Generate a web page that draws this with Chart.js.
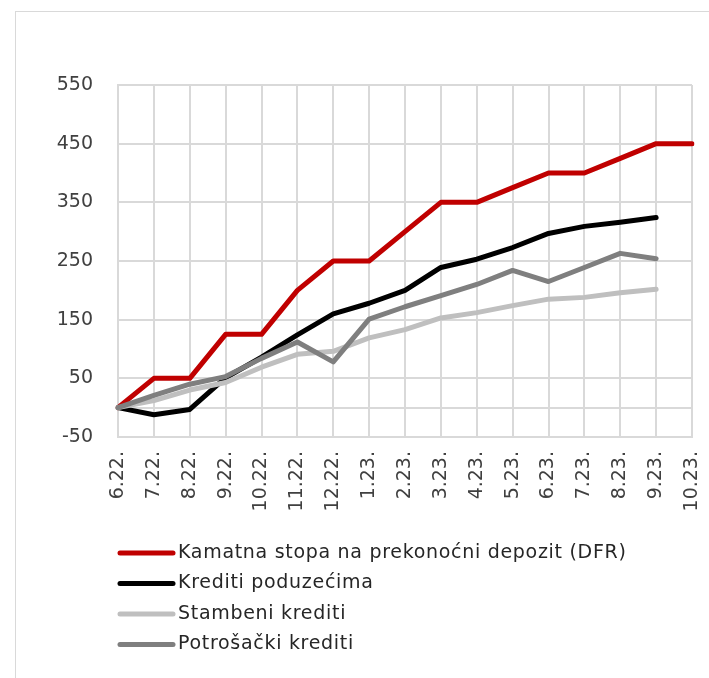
<!DOCTYPE html>
<html>
<head>
<meta charset="utf-8">
<script src="https://cdn.jsdelivr.net/npm/chart.js@4/dist/chart.umd.min.js"></script>
<style>
  html, body { margin: 0; padding: 0; background: #fff; overflow: hidden; }
  #frame { position: absolute; left: 15px; top: 11px; width: 760px; height: 720px; border: 1.5px solid #d9d9d9; }
  #wrap { position: absolute; left: 0; top: 0; width: 709px; height: 678px; }
</style>
</head>
<body>
<div id="frame"></div>
<div id="wrap"><canvas id="chart" width="709" height="678"></canvas></div>
<script>
// months (m.yy.)
const months = ['6.22.', '7.22.', '8.22.', '9.22.', '10.22.', '11.22.', '12.22.', '1.23.', '2.23.',
  '3.23.', '4.23.', '5.23.', '6.23.', '7.23.', '8.23.', '9.23.', '10.23.'];

// cumulative change, basis points
const dfr = [0, 50, 50, 125, 125, 200, 250, 250, 300, 350, 350, 375, 400, 400, 425, 450, 450];
const kreditiPoduzecima = [0, -12, -3, 51, 86, 124, 160, 178, 200, 239, 253, 273, 297, 309, 316, 324, null];
const stambeniKrediti = [0, 12, 30, 43, 69, 91, 96, 119, 133, 153, 162, 174, 185, 188, 196, 202, null];
const potrosackiKrediti = [0, 21, 40, 53, 84, 112, 78, 151, 172, 191, 210, 234, 215, 239, 263, 254, null];

// y axis ticks (0 gets a line but no label)
const yTicks = [-50, 0, 50, 150, 250, 350, 450, 550];

const FONT = '"DejaVu Sans", sans-serif';

// legend one item per row, like the original
const stackedLegend = {
  id: 'stackedLegend',
  afterDraw(chart) {
    const ctx = chart.ctx;
    const x0 = chart.chartArea.left;
    let y = 553;
    ctx.save();
    ctx.font = '19px ' + FONT;
    ctx.letterSpacing = '0.7px';
    ctx.textBaseline = 'middle';
    chart.data.datasets.forEach(ds => {
      ctx.strokeStyle = ds.borderColor;
      ctx.lineWidth = 5;
      ctx.lineCap = 'round';
      ctx.beginPath();
      ctx.moveTo(x0 + 2, y);
      ctx.lineTo(x0 + 55, y);
      ctx.stroke();
      ctx.fillStyle = '#262626';
      ctx.fillText(ds.label, x0 + 60, y);
      y += 30.5;
    });
    ctx.restore();
  }
};

const ctx = document.getElementById('chart');
new Chart(ctx, {
  type: 'line',
  data: {
    labels: months,
    datasets: [
      { label: 'Kamatna stopa na prekonoćni depozit (DFR)', data: dfr, borderColor: '#c00000', order: 4 },
      { label: 'Krediti poduzećima', data: kreditiPoduzecima, borderColor: '#000000', order: 3 },
      { label: 'Stambeni krediti', data: stambeniKrediti, borderColor: '#bfbfbf', order: 2 },
      { label: 'Potrošački krediti', data: potrosackiKrediti, borderColor: '#7f7f7f', order: 1 }
    ]
  },
  options: {
    responsive: false,
    animation: false,
    layout: { padding: { top: 85, right: 0, left: 0, bottom: 0 } },
    elements: {
      line: { borderWidth: 5, tension: 0, borderJoinStyle: 'round', borderCapStyle: 'round' },
      point: { radius: 0 }
    },
    plugins: {
      legend: { display: false },
      tooltip: { enabled: false }
    },
    scales: {
      x: {
        offset: false,
        grid: { color: '#d9d9d9', lineWidth: 2, drawTicks: false },
        border: { color: '#d9d9d9', width: 2 },
        ticks: {
          autoSkip: false, minRotation: 90, maxRotation: 90, padding: 14,
          color: '#404040', font: { family: FONT, size: 19 }
        },
        afterFit(scale) {
          scale.height = 678 - 437;
          scale.paddingLeft = 0;
          scale.paddingRight = 17;
        }
      },
      y: {
        min: -50, max: 550,
        afterBuildTicks(scale) { scale.ticks = yTicks.map(v => ({ value: v })); },
        grid: { color: '#d9d9d9', lineWidth: 2, drawTicks: false },
        border: { color: '#d9d9d9', width: 2 },
        ticks: {
          padding: 25, color: '#404040', font: { family: FONT, size: 19 },
          callback: v => (v === 0 ? '' : v)
        },
        afterFit(scale) { scale.width = 118; }
      }
    }
  },
  plugins: [stackedLegend]
});
</script>
</body>
</html>
